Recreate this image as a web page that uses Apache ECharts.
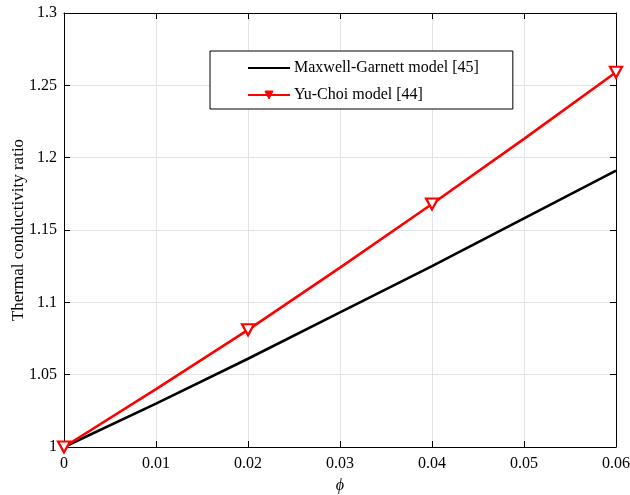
<!DOCTYPE html>
<html>
<head>
<meta charset="utf-8">
<script src="https://cdn.jsdelivr.net/npm/echarts@6/dist/echarts.min.js"></script>
<style>
  html, body { margin: 0; padding: 0; background: #fff; }
  #chart { width: 630px; height: 495px; }
</style>
</head>
<body>
<div id="chart"></div>
<script>
// Volume fraction samples
const phi = [0, 0.01, 0.02, 0.03, 0.04, 0.05, 0.06];
// Thermal conductivity ratio for each model
const maxwellGarnett = [1.000, 1.030, 1.061, 1.093, 1.125, 1.158, 1.191];
const yuChoi = [1.000, 1.040, 1.081, 1.124, 1.168, 1.213, 1.259];
// Points of the Yu-Choi curve that carry a marker
const yuChoiMarked = [true, false, true, false, true, false, true];

const xTicks = [0, 0.01, 0.02, 0.03, 0.04, 0.05, 0.06];
const yTicks = [1, 1.05, 1.1, 1.15, 1.2, 1.25, 1.3];

const serif = '"Liberation Serif", "DejaVu Serif", serif';
const fmt = v => String(parseFloat(Number(v).toFixed(3)));

const chart = echarts.init(document.getElementById('chart'), null, { renderer: 'canvas' });

const frameAxis = {
  axisLine: { show: true, onZero: false, lineStyle: { color: '#000', width: 1 } },
  axisTick: { show: true, inside: true, length: 6, lineStyle: { color: '#000', width: 1 } },
};

chart.setOption({
  animation: false,
  backgroundColor: '#fff',
  grid: { left: 64, right: 14, top: 13, bottom: 48, containLabel: false, outerBoundsMode: 'none' },
  legend: {
    orient: 'vertical',
    left: 210,
    top: 51,
    padding: [9, 34, 6, 37],
    itemGap: 11,
    itemWidth: 42,
    itemHeight: 10,
    borderColor: '#000',
    borderWidth: 1,
    borderRadius: 0,
    backgroundColor: '#fff',
    textStyle: { fontFamily: serif, fontSize: 16, color: '#000', padding: [0, 0, 0, -1] },
    data: [
      { name: 'Maxwell-Garnett model [45]', itemStyle: { opacity: 0 } },
      { name: 'Yu-Choi model [44]', itemStyle: { color: '#ff0000', borderColor: '#ff0000', borderWidth: 1 } }
    ]
  },
  xAxis: [
    Object.assign({
      type: 'value',
      min: xTicks[0], max: xTicks[xTicks.length - 1], interval: 0.01,
      name: 'ϕ',
      nameLocation: 'middle',
      nameGap: 31,
      nameMoveOverlap: false,
      nameTextStyle: { fontFamily: serif, fontSize: 16, color: '#000', fontStyle: 'italic' },
      axisLabel: { fontFamily: serif, fontSize: 16, color: '#000', margin: 9, formatter: fmt },
      splitLine: { show: true, lineStyle: { color: '#e3e3e3', width: 1 } }
    }, frameAxis),
    Object.assign({
      type: 'value', position: 'top',
      min: xTicks[0], max: xTicks[xTicks.length - 1], interval: 0.01,
      axisLabel: { show: false },
      splitLine: { show: false }
    }, frameAxis)
  ],
  yAxis: [
    Object.assign({
      type: 'value',
      min: yTicks[0], max: yTicks[yTicks.length - 1], interval: 0.05,
      name: 'Thermal conductivity ratio',
      nameLocation: 'middle',
      nameGap: 37,
      nameMoveOverlap: false,
      nameTextStyle: { fontFamily: serif, fontSize: 17, color: '#000' },
      axisLabel: { fontFamily: serif, fontSize: 16, color: '#000', margin: 7, formatter: fmt },
      splitLine: { show: true, lineStyle: { color: '#e3e3e3', width: 1 } }
    }, frameAxis),
    Object.assign({
      type: 'value', position: 'right',
      min: yTicks[0], max: yTicks[yTicks.length - 1], interval: 0.05,
      axisLabel: { show: false },
      splitLine: { show: false }
    }, frameAxis)
  ],
  series: [
    {
      name: 'Maxwell-Garnett model [45]',
      type: 'line',
      data: phi.map((x, i) => [x, maxwellGarnett[i]]),
      showSymbol: false,
      symbol: 'none',
      lineStyle: { color: '#000', width: 2.6 },
      itemStyle: { color: '#000' },
      z: 3
    },
    {
      name: 'Yu-Choi model [44]',
      type: 'line',
      data: phi.map((x, i) => ({
        value: [x, yuChoi[i]],
        symbol: yuChoiMarked[i] ? 'triangle' : 'none'
      })),
      symbol: 'triangle',
      symbolSize: [12, 11],
      symbolRotate: 180,
      showAllSymbol: true,
      lineStyle: { color: '#ff0000', width: 2.6 },
      itemStyle: { color: '#ffffff', borderColor: '#ff0000', borderWidth: 2.2 },
      z: 4
    }
  ]
});
</script>
</body>
</html>
